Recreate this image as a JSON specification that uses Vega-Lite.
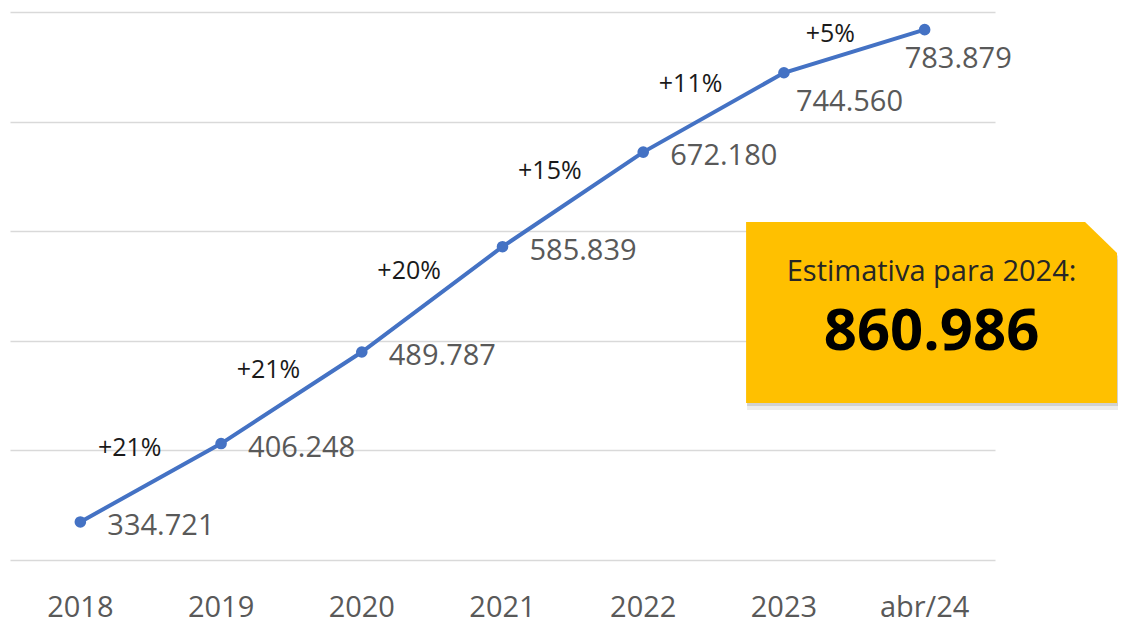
{
  "$schema": "https://vega.github.io/schema/vega-lite/v6.json",
  "width": 985,
  "height": 548,
  "autosize": {"type": "none"},
  "padding": {"left": 10, "top": 12, "right": 128, "bottom": 65},
  "background": "white",
  "config": {
    "view": {"stroke": null},
    "locale": {"number": {"decimal": ",", "thousands": ".", "grouping": [3], "currency": ["R$", ""]}}
  },
  "datasets": {
    "series": [
      {"year": "2018", "value": 334721, "pct": null},
      {"year": "2019", "value": 406248, "pct": "+21%"},
      {"year": "2020", "value": 489787, "pct": "+21%"},
      {"year": "2021", "value": 585839, "pct": "+20%"},
      {"year": "2022", "value": 672180, "pct": "+15%"},
      {"year": "2023", "value": 744560, "pct": "+11%"},
      {"year": "abr/24", "value": 783879, "pct": "+5%"}
    ],
    "boxShape": [
      {"bx": 5.231, "top": 608394, "bottom": 443248},
      {"bx": 7.640, "top": 608394, "bottom": 443248},
      {"bx": 7.867, "top": 580109, "bottom": 443248}
    ],
    "boxText": [
      {"kind": "title", "bx": 6.549, "by": 562774, "t": "Estimativa para 2024:"},
      {"kind": "big", "bx": 6.549, "by": 507117, "t": "860.986"}
    ]
  },
  "layer": [
    {
      "data": {"name": "series"},
      "layer": [
        {
          "mark": {"type": "line", "color": "#4472C4", "strokeWidth": 4},
          "encoding": {
            "x": {
              "field": "year", "type": "nominal", "bandPosition": 0.5, "sort": null,
              "scale": {"type": "band", "domain": ["2018", "2019", "2020", "2021", "2022", "2023", "abr/24"], "paddingInner": 0, "paddingOuter": 0},
              "axis": {"title": null, "labelAngle": 0, "labelFont": "Open Sans", "labelFontSize": 29, "labelColor": "#595959", "ticks": false, "domain": false, "grid": false, "labelPadding": 47, "labelBaseline": "middle"}
            },
            "y": {
              "field": "value", "type": "quantitative",
              "scale": {"domain": [300000, 800000], "nice": false, "zero": false},
              "axis": {"title": null, "labels": false, "ticks": false, "domain": false, "grid": true, "gridColor": "#d9d9d9", "gridWidth": 1.5, "values": [300000, 400000, 500000, 600000, 700000, 800000]}
            }
          }
        },
        {
          "mark": {"type": "point", "filled": true, "color": "#4472C4", "size": 135, "opacity": 1},
          "encoding": {
            "x": {"field": "year", "type": "nominal", "bandPosition": 0.5, "sort": null, "scale": {"type": "band", "domain": ["2018", "2019", "2020", "2021", "2022", "2023", "abr/24"], "paddingInner": 0, "paddingOuter": 0}},
            "y": {"field": "value", "type": "quantitative"}
          }
        },
        {
          "transform": [{"filter": {"field": "year", "oneOf": ["2018", "2019", "2020", "2021", "2022"]}}],
          "mark": {"type": "text", "align": "left", "baseline": "middle", "dx": 27, "dy": 4, "font": "Open Sans", "fontSize": 29, "color": "#595959"},
          "encoding": {
            "x": {"field": "year", "type": "nominal", "bandPosition": 0.5, "sort": null, "scale": {"type": "band", "domain": ["2018", "2019", "2020", "2021", "2022", "2023", "abr/24"], "paddingInner": 0, "paddingOuter": 0}},
            "y": {"field": "value", "type": "quantitative"},
            "text": {"field": "value", "type": "quantitative", "format": ",d"}
          }
        },
        {
          "transform": [{"filter": {"field": "year", "equal": "2023"}}],
          "mark": {"type": "text", "align": "left", "baseline": "middle", "dx": 12, "dy": 29, "font": "Open Sans", "fontSize": 29, "color": "#595959"},
          "encoding": {
            "x": {"field": "year", "type": "nominal", "bandPosition": 0.5, "sort": null, "scale": {"type": "band", "domain": ["2018", "2019", "2020", "2021", "2022", "2023", "abr/24"], "paddingInner": 0, "paddingOuter": 0}},
            "y": {"field": "value", "type": "quantitative"},
            "text": {"field": "value", "type": "quantitative", "format": ",d"}
          }
        },
        {
          "transform": [{"filter": {"field": "year", "equal": "abr/24"}}],
          "mark": {"type": "text", "align": "left", "baseline": "middle", "dx": -20, "dy": 29, "font": "Open Sans", "fontSize": 29, "color": "#595959"},
          "encoding": {
            "x": {"field": "year", "type": "nominal", "bandPosition": 0.5, "sort": null, "scale": {"type": "band", "domain": ["2018", "2019", "2020", "2021", "2022", "2023", "abr/24"], "paddingInner": 0, "paddingOuter": 0}},
            "y": {"field": "value", "type": "quantitative"},
            "text": {"field": "value", "type": "quantitative", "format": ",d"}
          }
        },
        {
          "transform": [
            {"window": [{"op": "lag", "field": "value", "as": "prev"}], "sort": [{"field": "value", "order": "ascending"}]},
            {"filter": {"field": "year", "oneOf": ["2020", "2021", "2022", "2023"]}},
            {"fold": ["prev", "value"], "as": ["k", "v"]},
            {"aggregate": [{"op": "mean", "field": "v", "as": "mid"}], "groupby": ["year", "pct"]}
          ],
          "mark": {"type": "text", "align": "center", "baseline": "middle", "dx": -23, "dy": -28, "font": "Open Sans", "fontSize": 25, "color": "#1a1a1a"},
          "encoding": {
            "x": {"field": "year", "type": "nominal", "bandPosition": 0, "sort": null, "scale": {"type": "band", "domain": ["2018", "2019", "2020", "2021", "2022", "2023", "abr/24"], "paddingInner": 0, "paddingOuter": 0}},
            "y": {"field": "mid", "type": "quantitative"},
            "text": {"field": "pct", "type": "nominal"}
          }
        },
        {
          "transform": [
            {"window": [{"op": "lag", "field": "value", "as": "prev"}], "sort": [{"field": "value", "order": "ascending"}]},
            {"filter": {"field": "year", "equal": "2019"}},
            {"fold": ["prev", "value"], "as": ["k", "v"]},
            {"aggregate": [{"op": "mean", "field": "v", "as": "mid"}], "groupby": ["year", "pct"]}
          ],
          "mark": {"type": "text", "align": "center", "baseline": "middle", "dx": -21, "dy": -35, "font": "Open Sans", "fontSize": 25, "color": "#1a1a1a"},
          "encoding": {
            "x": {"field": "year", "type": "nominal", "bandPosition": 0, "sort": null, "scale": {"type": "band", "domain": ["2018", "2019", "2020", "2021", "2022", "2023", "abr/24"], "paddingInner": 0, "paddingOuter": 0}},
            "y": {"field": "mid", "type": "quantitative"},
            "text": {"field": "pct", "type": "nominal"}
          }
        },
        {
          "transform": [
            {"window": [{"op": "lag", "field": "value", "as": "prev"}], "sort": [{"field": "value", "order": "ascending"}]},
            {"filter": {"field": "year", "equal": "abr/24"}},
            {"fold": ["prev", "value"], "as": ["k", "v"]},
            {"aggregate": [{"op": "mean", "field": "v", "as": "mid"}], "groupby": ["year", "pct"]}
          ],
          "mark": {"type": "text", "align": "center", "baseline": "middle", "dx": -24, "dy": -17, "font": "Open Sans", "fontSize": 25, "color": "#1a1a1a"},
          "encoding": {
            "x": {"field": "year", "type": "nominal", "bandPosition": 0, "sort": null, "scale": {"type": "band", "domain": ["2018", "2019", "2020", "2021", "2022", "2023", "abr/24"], "paddingInner": 0, "paddingOuter": 0}},
            "y": {"field": "mid", "type": "quantitative"},
            "text": {"field": "pct", "type": "nominal"}
          }
        }
      ]
    },
    {
      "layer": [
        {
          "data": {"name": "boxShape"},
          "mark": {"type": "area", "color": "#808080", "opacity": 0.14, "xOffset": 1, "yOffset": 7, "y2Offset": 7},
          "encoding": {
            "x": {"field": "bx", "type": "quantitative", "scale": {"domain": [0, 7], "nice": false, "zero": false}, "axis": null},
            "y": {"field": "top", "type": "quantitative"},
            "y2": {"field": "bottom"}
          }
        },
        {
          "data": {"name": "boxShape"},
          "mark": {"type": "area", "color": "#808080", "opacity": 0.25, "xOffset": 1, "yOffset": 3, "y2Offset": 3},
          "encoding": {
            "x": {"field": "bx", "type": "quantitative", "scale": {"domain": [0, 7], "nice": false, "zero": false}, "axis": null},
            "y": {"field": "top", "type": "quantitative"},
            "y2": {"field": "bottom"}
          }
        },
        {
          "data": {"name": "boxShape"},
          "mark": {"type": "area", "color": "#FFC000", "opacity": 1},
          "encoding": {
            "x": {"field": "bx", "type": "quantitative", "scale": {"domain": [0, 7], "nice": false, "zero": false}, "axis": null},
            "y": {"field": "top", "type": "quantitative"},
            "y2": {"field": "bottom"}
          }
        },
        {
          "data": {"name": "boxText"},
          "transform": [{"filter": {"field": "kind", "equal": "title"}}],
          "mark": {"type": "text", "align": "center", "baseline": "middle", "font": "Open Sans", "fontSize": 29, "color": "#262626"},
          "encoding": {
            "x": {"field": "bx", "type": "quantitative", "scale": {"domain": [0, 7], "nice": false, "zero": false}, "axis": null},
            "y": {"field": "by", "type": "quantitative"},
            "text": {"field": "t", "type": "nominal"}
          }
        },
        {
          "data": {"name": "boxText"},
          "transform": [{"filter": {"field": "kind", "equal": "big"}}],
          "mark": {"type": "text", "align": "center", "baseline": "middle", "font": "Open Sans", "fontSize": 58, "fontWeight": "bold", "color": "#000000"},
          "encoding": {
            "x": {"field": "bx", "type": "quantitative", "scale": {"domain": [0, 7], "nice": false, "zero": false}, "axis": null},
            "y": {"field": "by", "type": "quantitative"},
            "text": {"field": "t", "type": "nominal"}
          }
        }
      ]
    }
  ],
  "resolve": {"scale": {"x": "independent"}, "axis": {"x": "independent"}}
}
